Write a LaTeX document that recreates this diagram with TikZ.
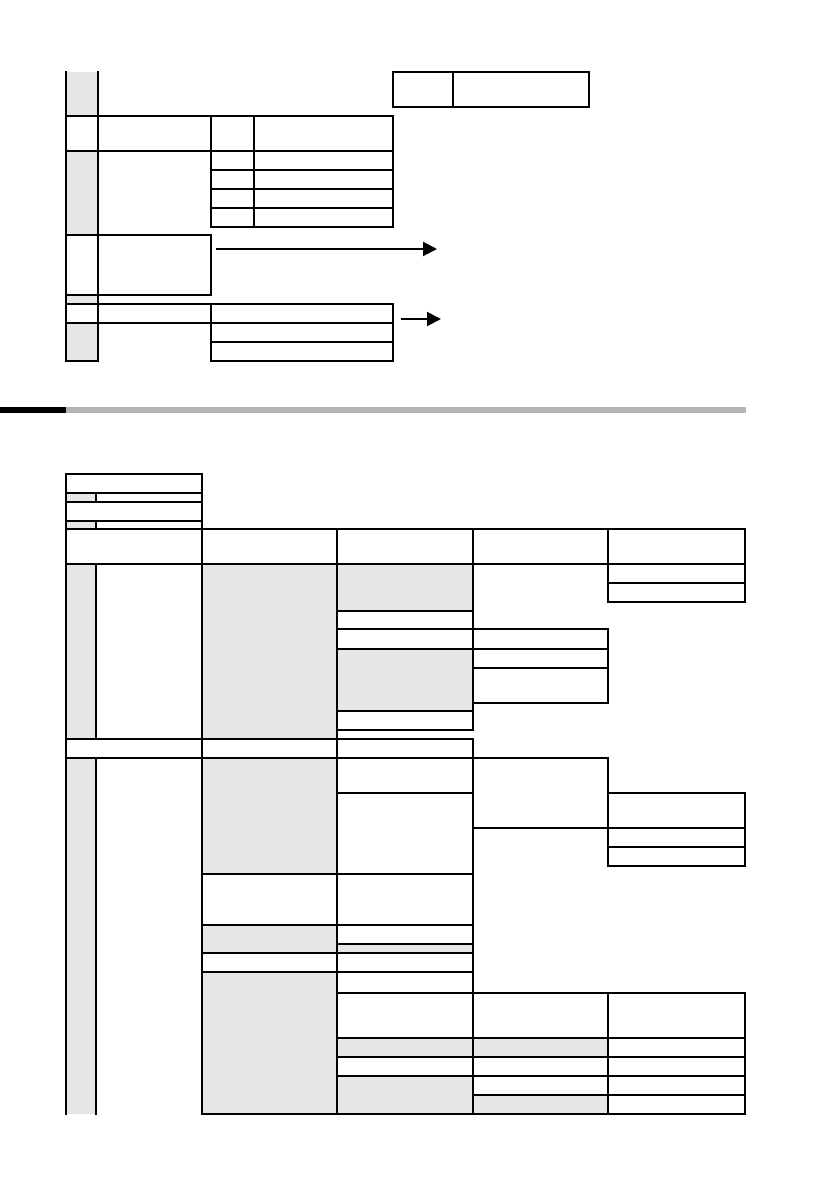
\documentclass[tikz,border=0pt]{standalone}
\usepackage{tikz}
\usepackage{xcolor}
\usetikzlibrary{arrows.meta}
\definecolor{cellGray}{HTML}{E6E6E6}
\definecolor{barGray}{HTML}{B3B3B3}

\begin{document}
\begin{tikzpicture}[x=1pt, y=-1pt,
  cell/.style={line width=1.2pt, line cap=rect},
  pointer/.style={line width=2pt, -{Triangle[length=14pt, width=14pt]}}]
  \useasboundingbox (0,0) rectangle (837,1190);

  % Upper table: shaded cells
  \fill[cellGray] (66,72) rectangle (98,116);
  \fill[cellGray] (66,151) rectangle (98,235);
  \fill[cellGray] (66,295) rectangle (98,304);
  \fill[cellGray] (66,323) rectangle (98,361);

  % Upper table: left column
  \draw[cell] (66,72) -- (66,361);
  \draw[cell] (98,72) -- (98,361);
  \draw[cell] (66,361) -- (98,361);

  % Upper table: head row
  \draw[cell] (66,116) rectangle (393,151);
  \draw[cell] (211,116) -- (211,151);
  \draw[cell] (254,116) -- (254,151);

  % Upper table: sub rows
  \foreach \y in {151,170,189,208} {
    \draw[cell] (211,\y) rectangle (254,\y+19);
    \draw[cell] (254,\y) rectangle (393,\y+19);
  }

  % Upper table: lower cells
  \draw[cell] (66,235) rectangle (211,295);
  \draw[cell] (66,304) rectangle (211,323);
  \draw[cell] (211,304) rectangle (393,323);
  \draw[cell] (211,323) rectangle (393,342);
  \draw[cell] (211,342) rectangle (393,361);

  % Side box
  \draw[cell] (393,72) rectangle (453,107);
  \draw[cell] (453,72) rectangle (589,107);

  % Arrows
  \coordinate (arrowAStart) at (216,249);
  \coordinate (arrowAEnd) at (437,249);
  \coordinate (arrowBStart) at (401,319);
  \coordinate (arrowBEnd) at (441,319);
  \draw[pointer] (arrowAStart) -- (arrowAEnd);
  \draw[pointer] (arrowBStart) -- (arrowBEnd);

  % Section bar
  \fill[black] (0,407) rectangle (66,413);
  \fill[barGray] (66,407) rectangle (746,413);

  % Lower table: shaded cells
  \fill[cellGray] (66,493) rectangle (96,502);
  \fill[cellGray] (66,521) rectangle (96,529);
  \fill[cellGray] (66,564) rectangle (96,739);
  \fill[cellGray] (202,564) rectangle (337,739);
  \fill[cellGray] (337,564) rectangle (473,611);
  \fill[cellGray] (337,649) rectangle (473,711);
  \fill[cellGray] (66,758) rectangle (96,1114);
  \fill[cellGray] (202,758) rectangle (337,874);
  \fill[cellGray] (202,925) rectangle (337,953);
  \fill[cellGray] (337,944) rectangle (473,953);
  \fill[cellGray] (202,972) rectangle (337,1114);
  \fill[cellGray] (337,1038) rectangle (608,1057);
  \fill[cellGray] (337,1076) rectangle (473,1114);
  \fill[cellGray] (473,1095) rectangle (608,1114);

  % Lower table: top block
  \draw[cell] (66,474) rectangle (202,529);
  \draw[cell] (66,493) -- (202,493);
  \draw[cell] (66,502) -- (202,502);
  \draw[cell] (66,521) -- (202,521);
  \draw[cell] (96,493) -- (96,502);
  \draw[cell] (96,521) -- (96,529);

  % Lower table: head row
  \draw[cell] (66,529) rectangle (745,564);
  \foreach \x in {202,337,473,608}
    \draw[cell] (\x,529) -- (\x,564);

  % Lower table: long columns
  \draw[cell] (66,564) -- (66,1114);
  \draw[cell] (96,564) -- (96,739);
  \draw[cell] (96,758) -- (96,1114);
  \draw[cell] (202,564) -- (202,1114);
  \draw[cell] (337,564) -- (337,1114);
  \draw[cell] (473,564) -- (473,730);
  \draw[cell] (473,739) -- (473,1114);

  % Lower table: first group
  \draw[cell] (337,611) -- (473,611);
  \draw[cell] (337,629) -- (608,629);
  \draw[cell] (337,649) -- (608,649);
  \draw[cell] (473,668) -- (608,668);
  \draw[cell] (473,703) -- (608,703);
  \draw[cell] (608,629) -- (608,703);
  \draw[cell] (337,711) -- (473,711);
  \draw[cell] (337,730) -- (473,730);
  \draw[cell] (608,564) -- (608,602);
  \draw[cell] (745,564) -- (745,602);
  \draw[cell] (608,583) -- (745,583);
  \draw[cell] (608,602) -- (745,602);

  % Lower table: middle rows
  \draw[cell] (66,739) -- (473,739);
  \draw[cell] (66,758) -- (608,758);
  \draw[cell] (337,793) -- (473,793);
  \draw[cell] (608,758) -- (608,828);
  \draw[cell] (608,793) -- (745,793);
  \draw[cell] (473,828) -- (745,828);
  \draw[cell] (608,847) -- (745,847);
  \draw[cell] (608,866) -- (745,866);
  \draw[cell] (608,828) -- (608,866);
  \draw[cell] (745,793) -- (745,866);
  \foreach \y in {874,925,953,972}
    \draw[cell] (202,\y) -- (473,\y);
  \draw[cell] (337,944) -- (473,944);

  % Lower table: last group
  \foreach \y in {993,1038,1057,1076}
    \draw[cell] (337,\y) -- (745,\y);
  \draw[cell] (473,1095) -- (745,1095);
  \draw[cell] (202,1114) -- (745,1114);
  \draw[cell] (608,993) -- (608,1114);
  \draw[cell] (745,993) -- (745,1114);
\end{tikzpicture}
\end{document}
